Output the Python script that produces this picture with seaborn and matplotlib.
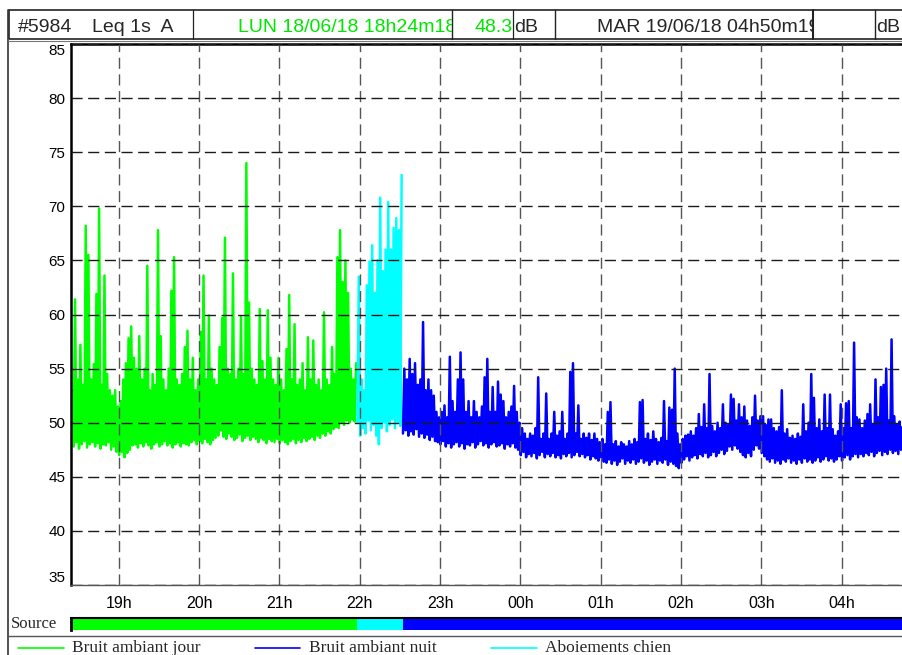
import numpy as np
import pandas as pd
import matplotlib
matplotlib.use("Agg")
import matplotlib.pyplot as plt
import seaborn as sns
from matplotlib.lines import Line2D
from matplotlib.patches import Rectangle
from matplotlib.transforms import Bbox, TransformedBbox

# time span of the record (hours, after midnight counted as 24+)
start_hour = 18 + 24 / 60 + 18 / 3600   # LUN 18/06/18 18h24m18
end_hour = 28 + 50 / 60 + 19 / 3600     # MAR 19/06/18 04h50m19

# Leq 1s: low / high of the trace, one pair every 2 minutes
green_low = [48, 47.8, 48.2, 47.6, 48, 48.3, 47.7, 48, 48.2, 47.8, 48.1, 47.6, 48, 47.9, 48.2, 47.5, 47.8, 47.3,
             47, 47.3, 46.8, 47.2, 47.5, 47.9,
             48, 47.7, 48.1, 47.8, 48.2, 47.9, 47.6, 48, 48.2, 47.8, 48, 48.3, 47.9, 48.1, 47.7, 48,
             48.2, 47.8, 48.1, 48, 47.9, 48.2, 48.4, 48, 48.3, 48.1, 48.5, 48.2, 48, 48.4, 48.6,
             48.8, 49.3, 48.7, 48.5, 49, 48.7, 48.4, 48.6, 48.9, 48.3, 48.6, 48.8, 48.4, 48.7, 48.5, 48.2,
             48.6, 48.4, 48.1, 48.5, 48.3,
             48.2, 48.5, 48.1, 48.4, 48.2, 48, 48.3, 48.5, 48.1, 48.4, 48.2, 48.6, 48.3, 48.5, 48.7, 48.4,
             48.8, 48.6, 49, 48.8,
             49.2, 49, 49.4, 49.6, 49.5, 50, 49.8, 50.2, 50, 50.3, 50.1]
green_high = [53, 61.4, 54, 57.2, 53.5, 68.2, 65.5, 54, 55.4, 61.9, 69.8, 53.5, 63.6, 54.5, 53, 52.5, 53, 51.5,
              52, 54, 55.5, 57.8, 58.9, 56, 55, 58, 54, 55, 64.5, 53, 54.5, 53.5, 67.8, 58, 54, 53,
              55, 62.2, 65.3, 54, 53.5, 54.5, 57, 58.5, 54, 56, 53, 54, 58.4, 63.6, 54, 59.9, 55, 54,
              53.5, 57, 59.7, 67.1, 55, 54.5, 63.8, 54, 55, 59.8, 54.5, 74.0, 61.1, 55, 54, 53.5, 60.5, 55.7,
              54, 60.4, 56, 54, 53.5, 56, 54, 53, 56.8, 61.8, 54, 59.1, 53.5, 54, 55.5, 53, 57.9, 54,
              57.6, 53.5, 54, 53, 60.2, 54, 53.5, 57, 54.5, 65.3, 67.8, 63, 65, 62, 55, 54, 55.5]
cyan_low = [50, 48.8, 49.5, 49, 50.2, 49.3, 49.8, 48.8, 48, 49.5, 50, 49.2, 49.8, 50.3, 49.5, 50, 49.7]
cyan_high = [63.5, 54, 53, 62.7, 64.9, 66.4, 62, 65, 70.8, 64, 66, 70.4, 66, 68, 68.9, 67.8, 72.9]
blue_low = [49, 49.3, 48.8, 49.2, 48.9, 49.4, 48.7, 49, 48.6, 48.9, 48.4, 48.7, 48.3, 48.2,
            48, 48.3, 47.8, 48.1, 47.7, 48, 48.2, 47.8, 48.1, 47.6, 48, 47.9, 48.2, 47.7, 48, 48.3,
            47.9, 48.1, 47.7, 48, 48.2, 47.8, 47.9, 48.1, 47.6, 48, 47.8, 48.1, 47.7, 47.5,
            47, 47.3, 46.8, 47.1, 46.9, 47.2, 46.7, 47, 47.3, 46.8, 47.1, 46.9, 47.2, 46.8, 47, 46.7,
            47.1, 46.9, 47.2, 46.8, 47, 47.3, 46.9, 47.1, 46.8, 47, 46.6, 46.9, 46.7, 46.5, 46.8, 46.4,
            46.3, 46.6, 46.2, 46.5, 46.1, 46.4, 46.7, 46.2, 46.5, 46.3, 46.6, 46.2, 46.4, 46.7, 46.3,
            46.5, 46.1, 46.4, 46.6, 46.2, 46.5, 46.3, 46.6, 46.1, 46.4, 46.2, 46, 45.8,
            46.3, 46.6, 46.9, 46.5, 46.8, 47, 46.7, 47.1, 46.9, 47.2, 46.8, 47, 47.3, 46.9, 47.2, 47.5,
            47.1, 47.4, 47.8, 47.5, 47.9, 47.6,
            47.3, 47, 46.8, 47.2, 46.9, 47.5, 47.9, 47.6, 47.2, 46.9, 46.6, 46.4, 46.7, 46.3, 46.5, 46.2,
            46.6, 46.4, 46.7, 46.3,
            46.5, 46.2, 46.6, 46.3, 46.7, 46.4, 46.6, 46.3, 46.5, 46.8, 46.4, 46.6, 46.9, 46.5, 46.7, 46.4,
            46.6, 46.9, 46.5, 46.8, 47, 46.6, 46.9, 47.1,
            46.8, 47.1, 46.9, 47.2, 47, 47.3, 46.9, 47.2, 47.4, 47, 47.3, 47.1, 47.5, 47.2, 47.4, 47.1,
            47.5, 47.3, 47.6]
blue_high = [55, 54, 55.9, 54.5, 55.5, 53.5, 54, 59.3, 53, 54, 53, 52.5, 51, 50.5, 51, 51.6, 50.5, 56.1,
             52, 51, 54, 56.5, 54, 51, 52, 50.5, 52, 51, 50.5, 51.5, 54.2, 55.9, 51, 53.3, 51, 53.8,
             52.6, 52, 50.5, 51, 51.5, 53.4, 51, 50, 49.5, 49, 48.5, 49, 48.8, 49.5, 54.2, 48.5, 49, 52.7,
             48.5, 49, 51, 48.8, 49.2, 51, 48.5, 49, 54.7, 55.5, 49, 51.6, 48.5, 49, 48.6, 49, 48.4, 49,
             48.5, 48.2, 48.5, 48, 51, 51.9, 48, 48.3, 47.8, 48.2, 48, 47.8, 48.3, 48, 48.5, 48.2, 51.9, 52.1,
             48.5, 49, 48.4, 49.2, 48.5, 48.2, 48.6, 52, 48.3, 51.4, 51.2, 55, 49, 48, 48.5, 48.8, 48.9, 49.2,
             48.8, 49.5, 50.8, 49.6, 51.7, 49.5, 54.5, 49.7, 49.2, 50, 49.5, 51.7, 50, 49.8, 52.6, 52.2, 50.2, 51.7,
             50.5, 51.5, 50.2, 49.7, 50.5, 52.5, 50.2, 50.6, 50.6, 49.8, 50.3, 50.3, 49.5, 49.2, 49.6, 53,
             49, 49.4, 48.6, 48.8, 48.5, 49, 48.7, 51.7, 49.2, 50, 54.5, 52.3, 49.5, 50.3, 49.2, 52.6,
             49.5, 52.6, 49.4, 48.8, 49.2, 51.7, 49.5, 51.8, 52, 49.5, 57.4, 50.5, 50.3, 49.5, 50.2, 50.8,
             51.7, 49.8, 54, 50.5, 53.3, 53.5, 55, 50.2, 57.7, 50.6, 49.8, 50.1, 49.6, 50.2, 49.5]

sources = ["Bruit ambiant jour", "Bruit ambiant nuit", "Aboiements chien"]
colors = {"Bruit ambiant jour": "#00ff00", "Bruit ambiant nuit": "#0000ff", "Aboiements chien": "#00ffff"}
hour_ticks = [19, 20, 21, 22, 23, 24, 25, 26, 27, 28]
hour_labels = ["19h", "20h", "21h", "22h", "23h", "00h", "01h", "02h", "03h", "04h"]
db_ticks = [35, 40, 45, 50, 55, 60, 65, 70, 75, 80, 85]


def interleave(low, high):
    v = np.empty(2 * len(low))
    v[0::2] = low
    v[1::2] = high
    return v


# one sample per minute, segments follow each other in time
parts = [("Bruit ambiant jour", green_low, green_high),
         ("Aboiements chien", cyan_low, cyan_high),
         ("Bruit ambiant nuit", blue_low, blue_high)]
frames = []
minute = 0
for name, lo, hi in parts:
    v = interleave(lo, hi)
    m = minute + np.arange(len(v))
    frames.append(pd.DataFrame({"hour": start_hour + m / 60, "level": v, "source": name}))
    minute += len(v)
df = pd.concat(frames, ignore_index=True)

sns.set_style("white")
plt.rcParams["font.family"] = ["Liberation Sans", "DejaVu Sans"]

W, H = 902, 655
fig = plt.figure(figsize=(W / 100, H / 100), dpi=100)


def fx(px):
    return px / W


def fy(py):
    return 1 - py / H


# main plot
ax = fig.add_axes([fx(71), fy(585), (909 - 71) / W, (585 - 44) / H])
sns.lineplot(data=df, x="hour", y="level", hue="source", palette=colors, estimator=None,
             sort=False, legend=False, linewidth=1.8, ax=ax)
ax.set_xlim(start_hour, end_hour)
ax.set_ylim(35, 85)
ax.set_xticks(hour_ticks)
ax.set_xticklabels(hour_labels)
ax.set_yticks(db_ticks)
ax.set_yticklabels([str(v) for v in db_ticks])
ax.set_xlabel("")
ax.set_ylabel("")
ax.set_axisbelow(False)
ax.xaxis.grid(True, color="#555555", linestyle=(0, (8, 4)), linewidth=1.0)
ax.yaxis.grid(True, color="#1a1a1a", linestyle=(0, (8, 4)), linewidth=1.0)
ax.tick_params(axis="y", direction="out", length=3, width=1, pad=1, labelsize=11, colors="black")
ax.tick_params(axis="x", direction="out", length=3, width=1, pad=5, labelsize=11.5, colors="black")
ylabs = ax.get_yticklabels()
ylabs[0].set_va("bottom")
ylabs[-1].set_va("top")
for s in ["left", "top"]:
    ax.spines[s].set_color("black")
    ax.spines[s].set_linewidth(1.8)
ax.spines["bottom"].set_color("#555555")
ax.spines["bottom"].set_linewidth(1.0)
ax.spines["right"].set_visible(False)

# source bar under the time axis
ax_src = fig.add_axes([fx(71), fy(630), (909 - 71) / W, 12 / H])
seg = df.groupby("source")["hour"].agg(["min", "max"])
for name in sources:
    ax_src.barh(0, seg.loc[name, "max"] - seg.loc[name, "min"] + 1 / 60, left=seg.loc[name, "min"],
                height=1, color=colors[name], linewidth=0)
ax_src.set_xlim(start_hour, end_hour)
ax_src.set_ylim(-0.5, 0.5)
ax_src.set_xticks([])
ax_src.set_yticks([])
for s in ["bottom", "right"]:
    ax_src.spines[s].set_visible(False)
ax_src.spines["top"].set_linewidth(1.5)
ax_src.spines["top"].set_color("black")
ax_src.spines["left"].set_linewidth(2)
ax_src.spines["left"].set_color("black")
fig.text(fx(11), fy(624), "Source", family=["Liberation Serif", "DejaVu Serif"], fontsize=12,
         ha="left", va="center")

# frame lines
fig.add_artist(Line2D([fx(8), fx(8)], [fy(10), fy(655)], color="#333333", lw=1.2))
fig.add_artist(Rectangle((fx(8.5), fy(39)), fx(910) - fx(8.5), fy(10) - fy(39), fill=False,
                         ec="#222222", lw=1.2, transform=fig.transFigure))
for px, lw in [(193, 0.9), (452, 1.0), (513, 0.9), (555, 1.0), (813, 1.5), (875, 1.0)]:
    fig.add_artist(Line2D([fx(px), fx(px)], [fy(10), fy(39)], color="#222222", lw=lw))
fig.add_artist(Line2D([fx(8), fx(902)], [fy(41), fy(41)], color="#777777", lw=0.8))
fig.add_artist(Line2D([fx(8), fx(902)], [fy(636), fy(636)], color="#555555", lw=1.0))

# header texts
base = fy(31.5)
fig.text(fx(18), base, "#5984", fontsize=14, va="baseline")
fig.text(fx(92), base, "Leq 1s  A", fontsize=14, va="baseline")
t1 = fig.text(fx(238), base, "LUN 18/06/18 18h24m18", fontsize=14, va="baseline", color="#00e600")
t1.set_clip_box(TransformedBbox(Bbox([[fx(194), fy(39)], [fx(452), fy(10)]]), fig.transFigure))
t1.set_clip_on(True)
fig.text(fx(513), base, "48.3", fontsize=14, va="baseline", ha="right", color="#00e600")
fig.text(fx(514), base, "dB", fontsize=14, va="baseline")
t2 = fig.text(fx(597), base, "MAR 19/06/18 04h50m19", fontsize=14, va="baseline")
t2.set_clip_box(TransformedBbox(Bbox([[fx(556), fy(39)], [fx(813), fy(10)]]), fig.transFigure))
t2.set_clip_on(True)
fig.text(fx(876), base, "dB", fontsize=14, va="baseline")

# legend row
leg_x = [(18, 64, 72), (255, 300, 309), (491, 537, 545)]
for name, (x0, x1, xt) in zip(sources, leg_x):
    fig.add_artist(Line2D([fx(x0), fx(x1)], [fy(648), fy(648)], color=colors[name], lw=1.2))
    fig.text(fx(xt), fy(652), name, family=["Liberation Serif", "DejaVu Serif"], fontsize=12.5,
             va="baseline")

fig.savefig("out.png", dpi=100)
